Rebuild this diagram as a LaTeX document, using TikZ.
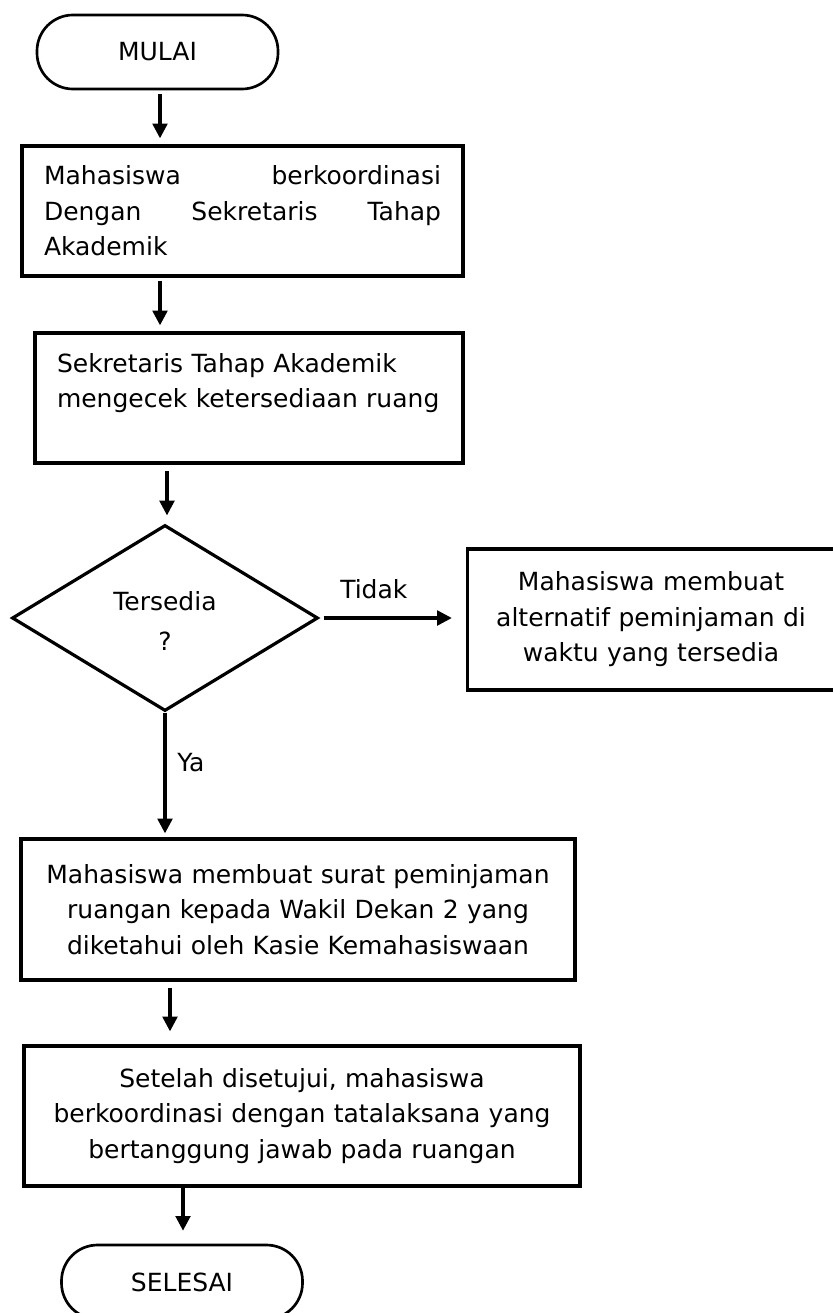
\documentclass[tikz,border=0pt]{standalone}
\usepackage{fontspec}
\setmainfont{DejaVu Sans}
\usetikzlibrary{shapes.geometric,arrows.meta}
\begin{document}
\begin{tikzpicture}[x=0.75pt,y=-0.75pt,
  every node/.style={font=\fontsize{18.75pt}{26.6pt}\selectfont},
  procbox/.style={draw, line width=2.5pt, rectangle, inner sep=0pt, align=center},
  termbox/.style={draw, line width=2pt, rectangle, rounded corners=27pt, inner sep=0pt,
    minimum width=180.75pt, minimum height=55.5pt},
  decbox/.style={draw, line width=2.4pt, diamond, inner sep=0pt, align=center,
    minimum width=229.5pt, minimum height=139.5pt},
  lbl/.style={inner sep=0pt, anchor=base west},
  arr/.style={line width=2.3pt, -{Triangle[length=11pt,width=11pt]}}
]
\useasboundingbox (0,0) rectangle (832,1313);
% nodes
\node[termbox] (mulai) at (157.5,52) {MULAI};
\node[procbox, minimum width=330.75pt, minimum height=97.5pt, text width=297.75pt, align=left] (b1) at (242.5,211)
  {\leavevmode\hbox to 297.75pt{Mahasiswa\hfill berkoordinasi}\\\leavevmode\hbox to 297.75pt{Dengan\hfill Sekretaris\hfill Tahap}\\Akademik};
\node[procbox, minimum width=321pt, minimum height=97.5pt, text width=288pt, align=left] (b2) at (249,398)
  {Sekretaris Tahap Akademik\\mengecek ketersediaan ruang\\\mbox{}};
\node[decbox] (d) at (165,618) {\rule{0pt}{18.75pt}Tersedia\\[3.4pt]?};
\coordinate (brc) at (654,619.5);
\node[procbox, minimum width=279.75pt, minimum height=105.75pt, text width=255pt] (br) at (brc)
  {\hspace*{-4.5pt}Mahasiswa membuat\\\hspace*{-4.5pt}alternatif peminjaman di\\\hspace*{-4.5pt}waktu yang tersedia};
\node[procbox, minimum width=415.5pt, minimum height=105.75pt, text width=400pt] (b3) at (298,909.5)
  {Mahasiswa membuat surat peminjaman\\ruangan kepada Wakil Dekan 2 yang\\diketahui oleh Kasie Kemahasiswaan};
\node[procbox, minimum width=417pt, minimum height=105pt, text width=400pt] (b4) at (302,1116)
  {Setelah disetujui, mahasiswa\\berkoordinasi dengan tatalaksana yang\\bertanggung jawab pada ruangan};
\node[termbox] (selesai) at (182,1282) {SELESAI};
% labels
\node[lbl] (tidak) at (340,598) {Tidak};
\node[lbl] (ya) at (177,771) {Ya};
% arrow columns
\coordinate (c1) at (160,0);
\coordinate (c2) at (167,0);
\coordinate (c3) at (165,0);
\coordinate (c4) at (170,0);
\coordinate (c5) at (183,0);
% connectors
\draw[arr, shorten <=3pt, shorten >=4.5pt] (mulai.south -| c1) -- (b1.north -| c1);
\draw[arr, shorten <=2.2pt, shorten >=4.5pt] (b1.south -| c1) -- (b2.north -| c1);
\draw[arr, shorten <=5pt, shorten >=6pt] (b2.south -| c2) -- (d.north -| c2);
\draw[arr, shorten <=3pt, shorten >=10.5pt] (d.east) -- (d.east -| br.west);
\draw[arr, shorten >=3pt] (d.south) -- (b3.north -| c3);
\draw[arr, shorten <=4.5pt, shorten >=9.75pt] (b3.south -| c4) -- (b4.north -| c4);
\draw[arr, shorten >=9.75pt] (b4.south -| c5) -- (selesai.north -| c5);
\end{tikzpicture}
\end{document}
